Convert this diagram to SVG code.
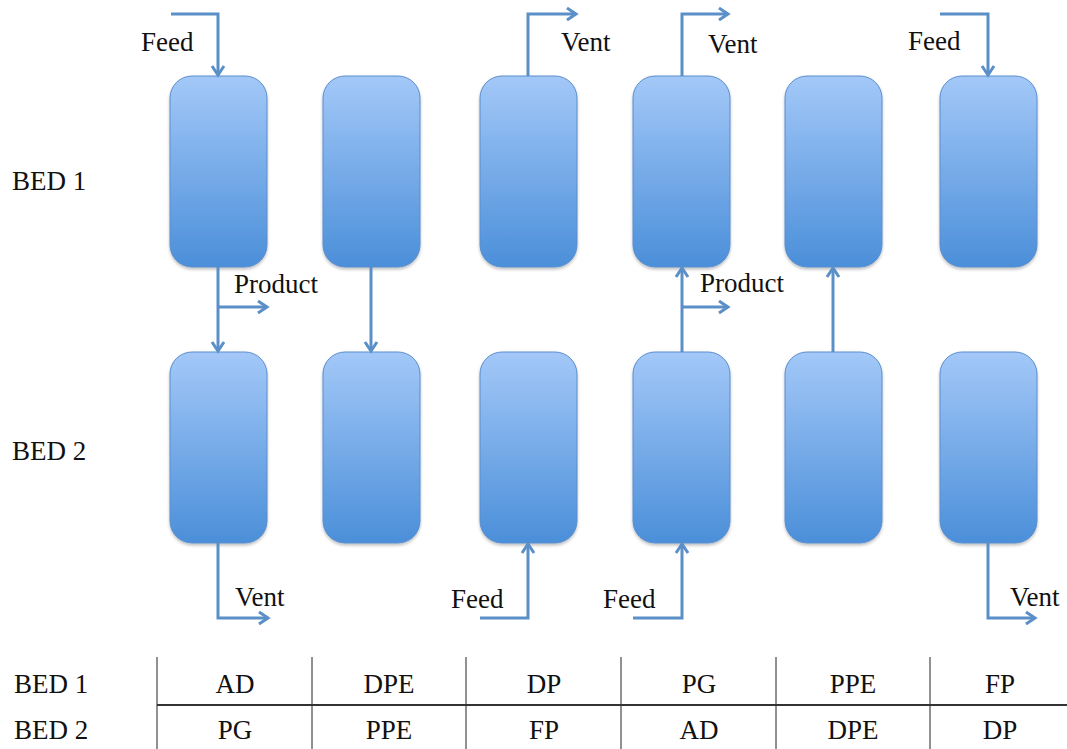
<svg xmlns="http://www.w3.org/2000/svg" width="1067" height="749" viewBox="0 0 1067 749">
<defs>
<linearGradient id="g" x1="0" y1="0" x2="0" y2="1">
<stop offset="0" stop-color="#a3c8f8"/>
<stop offset="1" stop-color="#4b8fd9"/>
</linearGradient>
<filter id="sh" x="-10%" y="-10%" width="130%" height="130%">
<feDropShadow dx="0" dy="2" stdDeviation="1.5" flood-color="#000" flood-opacity="0.25"/>
</filter>
<marker id="ah" markerUnits="userSpaceOnUse" markerWidth="16" markerHeight="16" refX="11" refY="7" orient="auto" viewBox="0 0 16 14">
<path d="M2,1 L11,7 L2,13" fill="none" stroke="#5b8fc8" stroke-width="3"/>
</marker>
<style>
.bed{fill:url(#g);stroke:#5a8dcc;stroke-width:1;filter:url(#sh)}
.c{fill:none;stroke:#5b8fc8;stroke-width:3}
.a{marker-end:url(#ah)}
.tx{font-family:'Liberation Serif','Times New Roman','DejaVu Serif',serif;font-size:27px;fill:#111}
.t{text-anchor:middle}
.vl{stroke:#222;stroke-width:1}
</style>
</defs>
<rect width="1067" height="749" fill="#fff"/>
<g id="bed1-row">
<g id="b1c1"><rect class="bed" x="170" y="76" width="97" height="191" rx="22"/></g>
<g id="b1c2"><rect class="bed" x="323" y="76" width="97" height="191" rx="22"/></g>
<g id="b1c3"><rect class="bed" x="480" y="76" width="97" height="191" rx="22"/></g>
<g id="b1c4"><rect class="bed" x="633" y="76" width="97" height="191" rx="22"/></g>
<g id="b1c5"><rect class="bed" x="785" y="76" width="97" height="191" rx="22"/></g>
<g id="b1c6"><rect class="bed" x="940" y="76" width="97" height="191" rx="22"/></g>
</g>
<g id="bed2-row">
<g id="b2c1"><rect class="bed" x="170" y="352" width="97" height="191" rx="22"/></g>
<g id="b2c2"><rect class="bed" x="323" y="352" width="97" height="191" rx="22"/></g>
<g id="b2c3"><rect class="bed" x="480" y="352" width="97" height="191" rx="22"/></g>
<g id="b2c4"><rect class="bed" x="633" y="352" width="97" height="191" rx="22"/></g>
<g id="b2c5"><rect class="bed" x="785" y="352" width="97" height="191" rx="22"/></g>
<g id="b2c6"><rect class="bed" x="940" y="352" width="97" height="191" rx="22"/></g>
</g>
<g id="connectors">
<path class="c a" d="M171,14 H218 V75"/>
<path class="c a" d="M528,76 V14 H576"/>
<path class="c a" d="M682,76 V14 H728"/>
<path class="c a" d="M940,14 H988 V75"/>
<path class="c a" d="M218,267 V351"/>
<path class="c a" d="M218,307 H267"/>
<path class="c a" d="M371,267 V351"/>
<path class="c a" d="M682,352 V268"/>
<path class="c a" d="M682,307 H728"/>
<path class="c a" d="M833,352 V268"/>
<path class="c a" d="M218,543 V618 H268"/>
<path class="c a" d="M480,618 H528 V544"/>
<path class="c a" d="M633,618 H682 V544"/>
<path class="c a" d="M988,543 V618 H1035"/>
</g>
<g id="labels" class="tx">
<text x="141" y="51">Feed</text>
<text x="561" y="51">Vent</text>
<text x="708" y="53">Vent</text>
<text x="908" y="50">Feed</text>
<text x="234" y="293">Product</text>
<text x="700" y="292">Product</text>
<text x="235" y="606">Vent</text>
<text x="451" y="608">Feed</text>
<text x="603" y="608">Feed</text>
<text x="1010" y="606">Vent</text>
<text x="12" y="190">BED 1</text>
<text x="12" y="460">BED 2</text>
</g>
<g id="table">
<line class="vl" x1="157" y1="657" x2="157" y2="749"/>
<line class="vl" x1="312" y1="657" x2="312" y2="749"/>
<line class="vl" x1="466" y1="657" x2="466" y2="749"/>
<line class="vl" x1="621" y1="657" x2="621" y2="749"/>
<line class="vl" x1="776" y1="657" x2="776" y2="749"/>
<line class="vl" x1="930" y1="657" x2="930" y2="749"/>
<line x1="157" y1="705" x2="1067" y2="705" stroke="#333" stroke-width="2"/>
<g class="tx">
<text x="14" y="693">BED 1</text>
<text x="14" y="739">BED 2</text>
<text class="t" x="235" y="693">AD</text>
<text class="t" x="389" y="693">DPE</text>
<text class="t" x="544" y="693">DP</text>
<text class="t" x="699" y="693">PG</text>
<text class="t" x="853" y="693">PPE</text>
<text class="t" x="1000" y="693">FP</text>
<text class="t" x="235" y="739">PG</text>
<text class="t" x="389" y="739">PPE</text>
<text class="t" x="544" y="739">FP</text>
<text class="t" x="699" y="739">AD</text>
<text class="t" x="853" y="739">DPE</text>
<text class="t" x="1000" y="739">DP</text>
</g>
</g>
</svg>
